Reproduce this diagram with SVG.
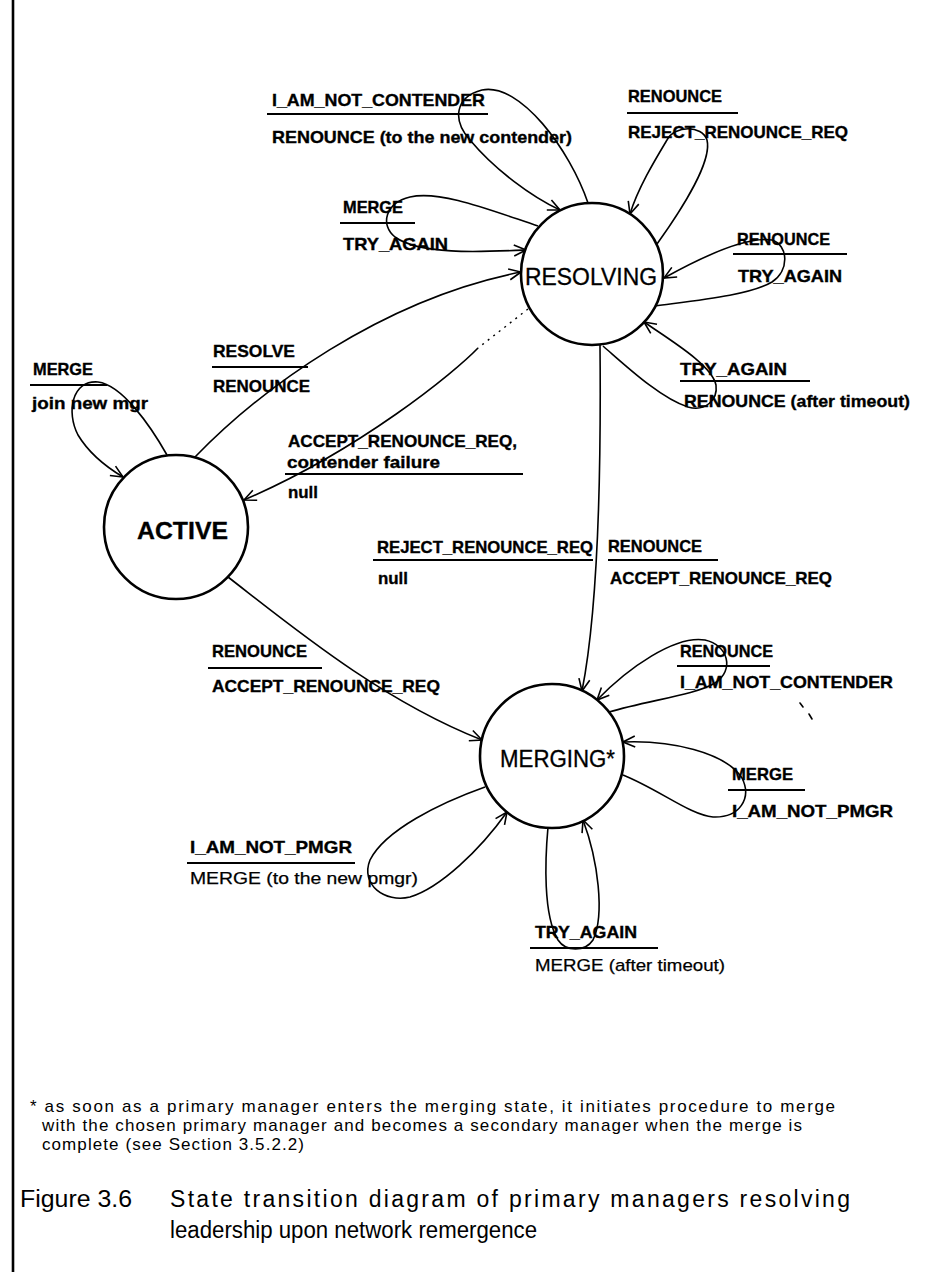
<svg xmlns="http://www.w3.org/2000/svg" width="941" height="1279" viewBox="0 0 941 1279">
  <style>
    .state { fill: #fff; stroke: #000; stroke-width: 2.6; }
    .sname { font-family: "Liberation Sans", Arial, sans-serif; font-size: 23px; fill: #000; stroke: #000; stroke-width: 0.3; }
    .edge { fill: none; stroke: #000; stroke-width: 1.6; marker-end: url(#open); }
    .dots { fill: none; stroke: #000; stroke-width: 1.4; stroke-dasharray: 2 5; }
    .lbl { font-family: "Liberation Sans", Arial, sans-serif; font-size: 17px; font-weight: bold; fill: #000; stroke: #000; stroke-width: 0.35; }
    .lt { font-family: "Liberation Sans", Arial, sans-serif; font-size: 17px; fill: #000; stroke: #000; stroke-width: 0.25; }
    .rule { stroke: #000; stroke-width: 2.2; }
    .note { font-family: "Liberation Sans", Arial, sans-serif; font-size: 17px; fill: #000; }
    .cap { font-family: "Liberation Sans", Arial, sans-serif; font-size: 23px; fill: #000; }
    .speck { stroke: #000; stroke-width: 1.6; stroke-linecap: round; }
  </style>
  <defs>
    <marker id="open" viewBox="0 0 14 14" refX="13" refY="7" markerWidth="14" markerHeight="14" markerUnits="userSpaceOnUse" orient="auto">
      <path d="M1,1.5 L13,7 L1,12.5" fill="none" stroke="#000" stroke-width="1.6"/>
    </marker>
  </defs>

  <rect x="0" y="0" width="941" height="1279" fill="#fff"/>
  <!-- page frame, left edge -->
  <line x1="13" y1="0" x2="13" y2="1272" stroke="#000" stroke-width="2.6"/>

  <!-- transitions -->
  <g id="connectors">
    <path class="edge" d="M588,203 C570,150 520,82 482,90 C455,97 452,120 470,140 C495,170 532,197 560,210"/>
    <path class="edge" d="M657,244 C685,205 712,160 707,140 C702,125 675,125 667,140 C655,160 638,188 630,214"/>
    <path class="edge" d="M538,226 C490,210 440,190 410,197 C385,203 380,225 395,237 C420,255 480,252 526,250"/>
    <path class="edge" d="M655,306 C700,300 750,295 772,282 C790,270 788,245 772,240 C745,236 700,258 664,278"/>
    <path class="edge" d="M603,346 C625,365 660,398 688,407 C705,412 718,400 716,385 C712,365 670,340 644,322"/>
    <path class="edge" d="M600,345 C601,450 600,600 582,691"/>
    <path class="edge" d="M195,457 C260,390 380,300 521,272"/>
    <path class="dots" d="M528,309 L478,348"/>
    <path class="edge" d="M478,348 C455,372 360,450 244,500"/>
    <path class="edge" d="M167,455 C150,425 122,385 98,382 C72,380 66,412 78,435 C90,455 108,468 123,477"/>
    <path class="edge" d="M228,577 C290,625 380,700 482,740"/>
    <path class="edge" d="M609,712 C650,700 695,695 715,683 C735,670 728,645 705,640 C675,635 628,668 597,700"/>
    <path class="edge" d="M623,775 C660,790 690,815 713,817 C740,818 752,798 742,778 C725,752 670,740 623,742"/>
    <path class="edge" d="M485,787 C440,803 385,830 370,860 C360,885 385,903 410,897 C440,888 480,850 507,812"/>
    <path class="edge" d="M548,827 C545,860 543,915 558,940 C566,952 585,952 593,940 C605,915 598,860 583,820"/>
  </g>

  <!-- states -->
  <g id="resolving">
    <circle class="state" cx="592" cy="274" r="71"/>
    <text class="sname" x="525" y="285" textLength="132" lengthAdjust="spacingAndGlyphs">RESOLVING</text>
  </g>
  <g id="active">
    <circle class="state" cx="176" cy="527" r="72"/>
    <text class="sname" x="137" y="539" font-size="25" font-weight="bold" textLength="91" lengthAdjust="spacingAndGlyphs">ACTIVE</text>
  </g>
  <g id="merging">
    <circle class="state" cx="552" cy="756" r="72"/>
    <text class="sname" x="500" y="767" textLength="115" lengthAdjust="spacingAndGlyphs">MERGING*</text>
  </g>

  <!-- transition labels: event over the rule, action under it -->
  <g id="lbl-resolving-not-contender">
    <text class="lbl" x="272" y="106" textLength="213" lengthAdjust="spacingAndGlyphs">I_AM_NOT_CONTENDER</text>
    <line class="rule" x1="267" y1="114" x2="488" y2="114"/>
    <text class="lbl" x="272" y="143" textLength="300" lengthAdjust="spacingAndGlyphs">RENOUNCE (to the new contender)</text>
  </g>
  <g id="lbl-resolving-renounce-reject">
    <text class="lbl" x="628" y="102" textLength="94" lengthAdjust="spacingAndGlyphs">RENOUNCE</text>
    <line class="rule" x1="627" y1="113" x2="738" y2="113"/>
    <text class="lbl" x="628" y="138" textLength="220" lengthAdjust="spacingAndGlyphs">REJECT_RENOUNCE_REQ</text>
  </g>
  <g id="lbl-resolving-merge">
    <text class="lbl" x="343" y="213" textLength="60" lengthAdjust="spacingAndGlyphs">MERGE</text>
    <line class="rule" x1="340" y1="223" x2="415" y2="223"/>
    <text class="lbl" x="343" y="250" textLength="105" lengthAdjust="spacingAndGlyphs">TRY_AGAIN</text>
  </g>
  <g id="lbl-resolving-renounce-retry">
    <text class="lbl" x="737" y="245" textLength="93" lengthAdjust="spacingAndGlyphs">RENOUNCE</text>
    <line class="rule" x1="733" y1="254" x2="847" y2="254"/>
    <text class="lbl" x="738" y="282" textLength="104" lengthAdjust="spacingAndGlyphs">TRY_AGAIN</text>
  </g>
  <g id="lbl-resolving-timeout">
    <text class="lbl" x="680" y="375" textLength="107" lengthAdjust="spacingAndGlyphs">TRY_AGAIN</text>
    <line class="rule" x1="680" y1="381" x2="810" y2="381"/>
    <text class="lbl" x="684" y="407" textLength="226" lengthAdjust="spacingAndGlyphs">RENOUNCE (after timeout)</text>
  </g>
  <g id="lbl-active-resolve">
    <text class="lbl" x="213" y="357" textLength="82" lengthAdjust="spacingAndGlyphs">RESOLVE</text>
    <line class="rule" x1="212" y1="367" x2="308" y2="367"/>
    <text class="lbl" x="213" y="392" textLength="97" lengthAdjust="spacingAndGlyphs">RENOUNCE</text>
  </g>
  <g id="lbl-resolving-accept">
    <text class="lbl" x="288" y="447" textLength="229" lengthAdjust="spacingAndGlyphs">ACCEPT_RENOUNCE_REQ,</text>
    <text class="lbl" x="287" y="468" textLength="153" lengthAdjust="spacingAndGlyphs">contender  failure</text>
    <line class="rule" x1="285" y1="474" x2="523" y2="474"/>
    <text class="lbl" x="288" y="498" textLength="30" lengthAdjust="spacingAndGlyphs">null</text>
  </g>
  <g id="lbl-active-merge">
    <text class="lbl" x="33" y="375" textLength="60" lengthAdjust="spacingAndGlyphs">MERGE</text>
    <line class="rule" x1="30" y1="385" x2="107" y2="385"/>
    <text class="lbl" x="32" y="409" textLength="116" lengthAdjust="spacingAndGlyphs">join new mgr</text>
  </g>
  <g id="lbl-resolving-reject">
    <text class="lbl" x="377" y="553" textLength="216" lengthAdjust="spacingAndGlyphs">REJECT_RENOUNCE_REQ</text>
    <line class="rule" x1="373" y1="560" x2="593" y2="560"/>
    <text class="lbl" x="378" y="584" textLength="30" lengthAdjust="spacingAndGlyphs">null</text>
  </g>
  <g id="lbl-resolving-to-merging">
    <text class="lbl" x="608" y="552" textLength="94" lengthAdjust="spacingAndGlyphs">RENOUNCE</text>
    <line class="rule" x1="608" y1="560" x2="718" y2="560"/>
    <text class="lbl" x="610" y="584" textLength="222" lengthAdjust="spacingAndGlyphs">ACCEPT_RENOUNCE_REQ</text>
  </g>
  <g id="lbl-active-to-merging">
    <text class="lbl" x="212" y="657" textLength="95" lengthAdjust="spacingAndGlyphs">RENOUNCE</text>
    <line class="rule" x1="208" y1="668" x2="322" y2="668"/>
    <text class="lbl" x="212" y="692" textLength="228" lengthAdjust="spacingAndGlyphs">ACCEPT_RENOUNCE_REQ</text>
  </g>
  <g id="lbl-merging-renounce">
    <text class="lbl" x="680" y="657" textLength="93" lengthAdjust="spacingAndGlyphs">RENOUNCE</text>
    <line class="rule" x1="677" y1="666" x2="770" y2="666"/>
    <text class="lbl" x="680" y="688" textLength="213" lengthAdjust="spacingAndGlyphs">I_AM_NOT_CONTENDER</text>
  </g>
  <g id="lbl-merging-merge">
    <text class="lbl" x="732" y="780" textLength="61" lengthAdjust="spacingAndGlyphs">MERGE</text>
    <line class="rule" x1="728" y1="790" x2="805" y2="790"/>
    <text class="lbl" x="732" y="817" textLength="161" lengthAdjust="spacingAndGlyphs">I_AM_NOT_PMGR</text>
  </g>
  <g id="lbl-merging-not-pmgr">
    <text class="lbl" x="190" y="853" textLength="162" lengthAdjust="spacingAndGlyphs">I_AM_NOT_PMGR</text>
    <line class="rule" x1="187" y1="863" x2="355" y2="863"/>
    <text class="lt" x="190" y="884" textLength="228" lengthAdjust="spacingAndGlyphs">MERGE (to the new pmgr)</text>
  </g>
  <g id="lbl-merging-timeout">
    <text class="lbl" x="535" y="938" textLength="102" lengthAdjust="spacingAndGlyphs">TRY_AGAIN</text>
    <line class="rule" x1="530" y1="948" x2="658" y2="948"/>
    <text class="lt" x="535" y="971" textLength="190" lengthAdjust="spacingAndGlyphs">MERGE (after timeout)</text>
  </g>

  <!-- small pen marks beside the merging state -->
  <g id="marks">
    <line class="speck" x1="800" y1="703" x2="803" y2="707"/>
    <line class="speck" x1="809" y1="714" x2="812" y2="719"/>
  </g>

  <!-- footnote -->
  <g id="footnote">
    <text class="note" x="30" y="1112" textLength="805" lengthAdjust="spacing">* as  soon as a primary manager enters the merging state, it initiates procedure to merge</text>
    <text class="note" x="42" y="1131" textLength="760" lengthAdjust="spacing">with the chosen primary manager and becomes a secondary manager when the merge is</text>
    <text class="note" x="42" y="1150" textLength="262" lengthAdjust="spacing">complete (see  Section 3.5.2.2)</text>
  </g>

  <!-- caption -->
  <g id="caption">
    <text class="cap" x="20" y="1207" textLength="112" lengthAdjust="spacingAndGlyphs">Figure 3.6</text>
    <text class="cap" x="170" y="1207" textLength="680" lengthAdjust="spacing">State transition diagram of primary managers resolving</text>
    <text class="cap" x="170" y="1238" textLength="367" lengthAdjust="spacingAndGlyphs">leadership upon network remergence</text>
  </g>
</svg>
